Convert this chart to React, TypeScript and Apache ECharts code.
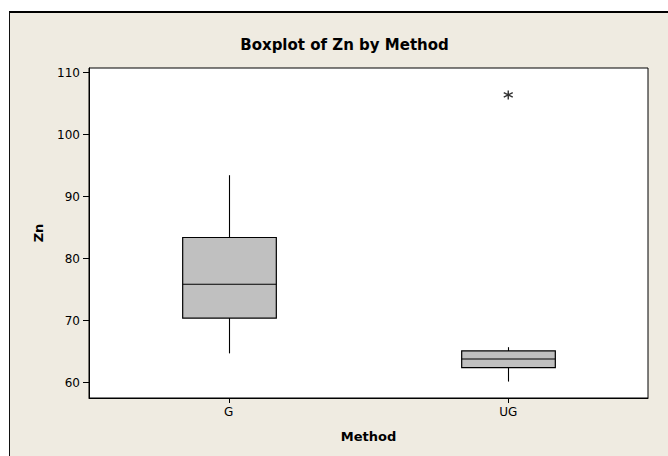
import React, { useEffect, useRef } from 'react';
import * as echarts from 'echarts';

// Categories on the x axis
const categories = ['G', 'UG'];
// Box statistics per category: [lower whisker, Q1, median, Q3, upper whisker]
const boxG = [64.7, 70.4, 75.85, 83.4, 93.45];
const boxUG = [60.15, 62.4, 63.8, 65.1, 65.7];
// Outliers: [category, value]
const outliers: [string, number][] = [['UG', 106.4]];
// Y tick labels
const yTicks = [60, 70, 80, 90, 100, 110];

const FONT = 'DejaVu Sans';

export default function App() {
  const ref = useRef<HTMLDivElement>(null);

  useEffect(() => {
    const chart = echarts.init(ref.current!, null, { renderer: 'svg' });
    const boxes = [boxG, boxUG];
    const boxData = categories.map((c, i) => [i, ...boxes[i]]);

    chart.setOption({
      animation: false,
      backgroundColor: 'transparent',
      grid: {
        left: 89,
        right: 20,
        top: 68,
        bottom: 58,
        show: true,
        backgroundColor: '#ffffff',
        borderColor: '#000',
        borderWidth: 1,
      },
      graphic: [
        {
          type: 'text',
          x: 344.5,
          y: 45,
          style: {
            text: 'Boxplot of Zn by Method',
            font: `bold 15px "${FONT}"`,
            fill: '#000',
            textAlign: 'center',
            textVerticalAlign: 'middle',
          },
        },
        {
          type: 'text',
          x: 368.5,
          y: 436,
          style: {
            text: 'Method',
            font: `bold 13px "${FONT}"`,
            fill: '#000',
            textAlign: 'center',
            textVerticalAlign: 'middle',
          },
        },
        {
          type: 'text',
          x: 38,
          y: 233,
          rotation: Math.PI / 2,
          style: {
            text: 'Zn',
            font: `bold 13px "${FONT}"`,
            fill: '#000',
            textAlign: 'center',
            textVerticalAlign: 'middle',
          },
        },
      ],
      xAxis: {
        type: 'category',
        data: categories,
        boundaryGap: true,
        axisLine: { show: true, lineStyle: { color: '#000', width: 1 } },
        axisTick: { show: true, alignWithLabel: true, length: 5, lineStyle: { color: '#000' } },
        axisLabel: { color: '#000', fontFamily: FONT, fontSize: 12, margin: 8 },
        splitLine: { show: false },
      },
      yAxis: {
        type: 'value',
        min: 57.5,
        max: 110.75,
        axisLine: { show: true, lineStyle: { color: '#000', width: 1 } },
        axisTick: { show: true, length: 6, lineStyle: { color: '#000' }, customValues: yTicks },
        axisLabel: {
          color: '#000',
          fontFamily: FONT,
          fontSize: 12,
          margin: 9,
          customValues: yTicks,
        },
        splitLine: { show: false },
      },
      series: [
        {
          type: 'custom',
          data: boxData,
          encode: { x: 0, y: [1, 2, 3, 4, 5] },
          renderItem: (params: any, api: any) => {
            const x = api.value(0);
            const lo = api.coord([x, api.value(1)]);
            const q1 = api.coord([x, api.value(2)]);
            const md = api.coord([x, api.value(3)]);
            const q3 = api.coord([x, api.value(4)]);
            const hi = api.coord([x, api.value(5)]);
            const w = api.size([1, 0])[0] * 0.335;
            const cx = Math.round(lo[0]) + 0.5;
            const left = cx - w / 2;
            const stroke = { stroke: '#000', lineWidth: 1.1 };
            return {
              type: 'group',
              children: [
                { type: 'line', shape: { x1: cx, y1: hi[1], x2: cx, y2: q3[1] }, style: stroke },
                { type: 'line', shape: { x1: cx, y1: q1[1], x2: cx, y2: lo[1] }, style: stroke },
                {
                  type: 'rect',
                  shape: { x: left, y: q3[1], width: w, height: q1[1] - q3[1] },
                  style: { fill: '#c0c0c0', stroke: '#000', lineWidth: 1.2 },
                },
                { type: 'line', shape: { x1: left, y1: md[1], x2: left + w, y2: md[1] }, style: stroke },
              ],
            };
          },
          z: 2,
        },
        {
          type: 'scatter',
          data: outliers,
          symbol: 'path://M5,0L5,10M0.67,2.5L9.33,7.5M0.67,7.5L9.33,2.5',
          symbolSize: 9,
          itemStyle: { color: 'transparent', borderColor: '#000', borderWidth: 1.4 },
          z: 3,
        },
      ],
    });
    return () => chart.dispose();
  }, []);

  return (
    <div style={{ position: 'fixed', left: 0, top: 0, width: 668, height: 456, background: '#ffffff' }}>
      <div
        style={{
          position: 'absolute',
          left: 9,
          top: 11,
          right: 0,
          bottom: 0,
          background: '#efebe1',
          borderTop: '2px solid #000',
          borderLeft: '1px solid #111',
        }}
      />
      <div ref={ref} style={{ position: 'absolute', left: 0, top: 0, width: 668, height: 456 }} />
    </div>
  );
}
